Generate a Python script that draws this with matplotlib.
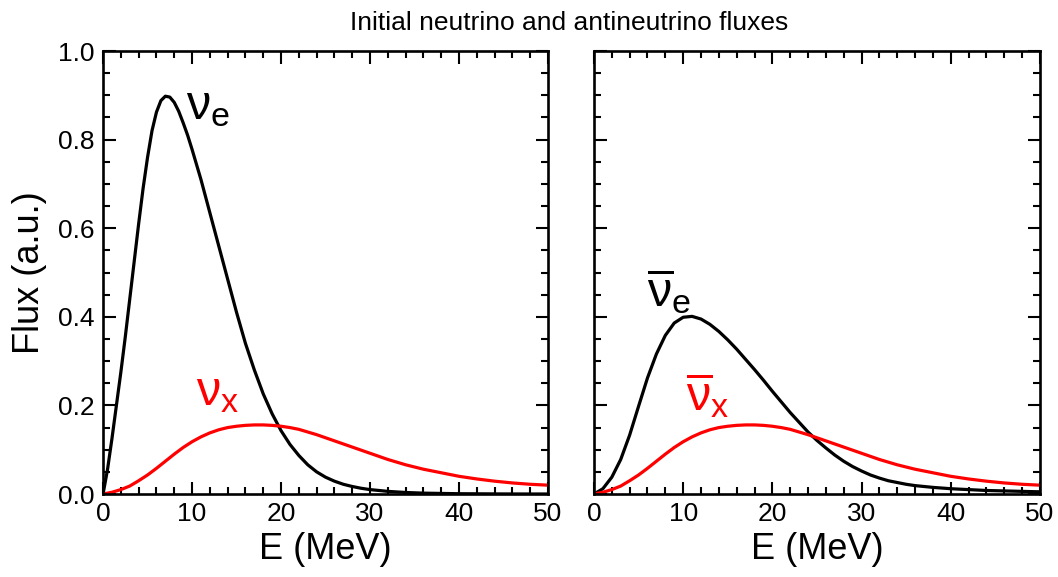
import matplotlib
matplotlib.use("Agg")
import matplotlib.pyplot as plt
from matplotlib.ticker import MultipleLocator

plt.rcParams['font.family'] = ['Liberation Sans', 'DejaVu Sans']
plt.rcParams['mathtext.fontset'] = 'custom'
plt.rcParams['mathtext.rm'] = 'Liberation Sans'
plt.rcParams['mathtext.it'] = 'Liberation Sans'
plt.rcParams['mathtext.bf'] = 'Liberation Sans:bold'

# ---- data (E in MeV, flux in a.u.) ----
e_nue = [0, 0.5, 1, 1.5, 2, 2.5, 3, 3.5, 4, 4.5, 5, 5.5, 6, 6.5, 7, 7.5,
         8, 8.5, 9, 9.5, 10, 11, 12, 13, 14, 15, 16, 17, 18, 19, 20, 21,
         22, 23, 24, 25, 26, 27, 28, 29, 30, 32, 34, 36, 40, 45, 50]
flux_nue = [0, 0.055, 0.125, 0.2, 0.275, 0.355, 0.44, 0.525, 0.61, 0.69,
            0.76, 0.82, 0.862, 0.888, 0.898, 0.896, 0.884, 0.864, 0.838,
            0.81, 0.778, 0.71, 0.635, 0.56, 0.485, 0.41, 0.34, 0.28, 0.226,
            0.181, 0.143, 0.112, 0.087, 0.066, 0.05, 0.038, 0.029, 0.022,
            0.017, 0.013, 0.010, 0.006, 0.0035, 0.002, 0.0007, 0.0002, 0.0]

e_nux = [0, 1, 2, 3, 4, 5, 6, 7, 8, 9, 10, 11, 12, 13, 14, 15, 16, 17, 18,
         19, 20, 21, 22, 23, 24, 25, 26, 27, 28, 29, 30, 31, 32, 33, 34, 35,
         36, 37, 38, 39, 40, 42, 44, 46, 48, 50]
flux_nux = [0, 0.004, 0.010, 0.018, 0.030, 0.043, 0.058, 0.074, 0.090,
            0.105, 0.118, 0.129, 0.138, 0.145, 0.150, 0.153, 0.155, 0.156,
            0.156, 0.155, 0.153, 0.150, 0.146, 0.140, 0.134, 0.127, 0.120,
            0.113, 0.106, 0.099, 0.092, 0.085, 0.078, 0.072, 0.066, 0.061,
            0.056, 0.052, 0.048, 0.044, 0.040, 0.034, 0.029, 0.025, 0.022,
            0.020]

e_anue = [0, 1, 2, 3, 4, 5, 6, 7, 8, 9, 10, 11, 12, 13, 14, 15, 16, 17, 18,
          19, 20, 21, 22, 23, 24, 25, 26, 27, 28, 29, 30, 31, 32, 33, 34, 35,
          36, 38, 40, 42, 44, 46, 48, 50]
flux_anue = [0, 0.012, 0.038, 0.078, 0.133, 0.198, 0.262, 0.316, 0.358,
             0.386, 0.399, 0.401, 0.395, 0.383, 0.367, 0.348, 0.327, 0.304,
             0.281, 0.257, 0.232, 0.208, 0.184, 0.162, 0.140, 0.121, 0.104,
             0.088, 0.074, 0.062, 0.052, 0.043, 0.036, 0.030, 0.026, 0.022,
             0.019, 0.015, 0.012, 0.010, 0.008, 0.007, 0.006, 0.005]

# antineutrino x flux is the same as the neutrino x flux
e_anux = e_nux
flux_anux = flux_nux

fig = plt.figure(figsize=(10.58, 5.77), dpi=100)
ax1 = fig.add_axes([0.0974, 0.1438, 0.4206, 0.7678])
ax2 = fig.add_axes([0.5614, 0.1438, 0.4215, 0.7678])

lw = 2.3
ax1.plot(e_nue, flux_nue, color='black', lw=lw)
ax1.plot(e_nux, flux_nux, color='#ff0000', lw=lw)
ax2.plot(e_anue, flux_anue, color='black', lw=lw)
ax2.plot(e_anux, flux_anux, color='#ff0000', lw=lw)

for ax in (ax1, ax2):
    ax.set_xlim(0, 50)
    ax.set_ylim(0, 1.0)
    ax.xaxis.set_major_locator(MultipleLocator(10))
    ax.xaxis.set_minor_locator(MultipleLocator(2))
    ax.yaxis.set_major_locator(MultipleLocator(0.2))
    ax.yaxis.set_minor_locator(MultipleLocator(0.05))
    ax.tick_params(which='both', direction='in', top=True, right=True,
                   width=1.5, labelsize=19)
    ax.tick_params(which='major', length=9, pad=6)
    ax.tick_params(which='minor', length=5)
    for s in ax.spines.values():
        s.set_linewidth(1.9)
    ax.set_xlabel('E (MeV)', fontsize=26, labelpad=4)

ax1.yaxis.set_major_formatter(plt.FormatStrFormatter('%.1f'))
ax2.tick_params(labelleft=False)
ax1.set_ylabel('Flux (a.u.)', fontsize=26, labelpad=8)

lab = 35
ax1.text(9.3, 0.845, r'$\nu_{\mathrm{e}}$', fontsize=lab, color='black',
         ha='left', va='baseline')
ax1.text(10.4, 0.200, r'$\nu_{\mathrm{x}}$', fontsize=lab, color='#ff0000',
         ha='left', va='baseline')
ax2.text(6.0, 0.424, r'$\overline{\nu}_{\mathrm{e}}$', fontsize=lab,
         color='black', ha='left', va='baseline')
ax2.text(10.3, 0.190, r'$\overline{\nu}_{\mathrm{x}}$', fontsize=lab,
         color='#ff0000', ha='left', va='baseline')

fig.text(0.538, 0.960, 'Initial neutrino and antineutrino fluxes',
         ha='center', va='center', fontsize=19)

fig.savefig('out.png', dpi=100)
